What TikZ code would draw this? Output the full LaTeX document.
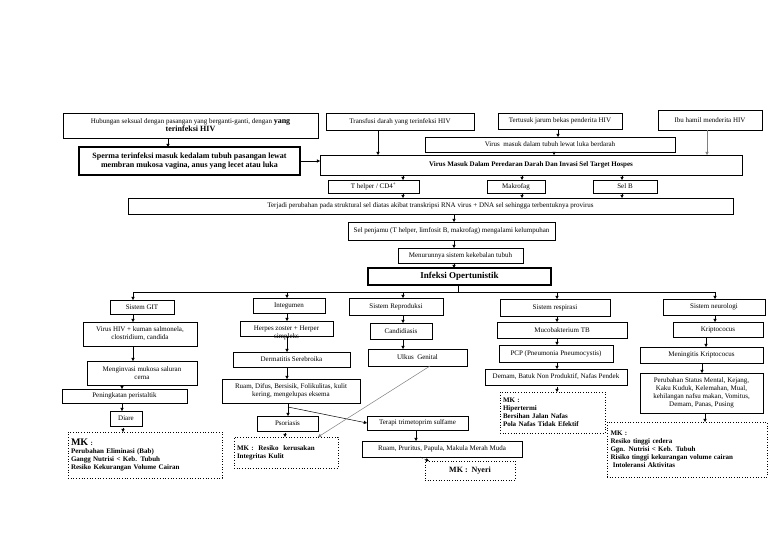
\documentclass[tikz,border=0pt]{standalone}
\usepackage{fontspec}
\setmainfont{Liberation Serif}
\usetikzlibrary{arrows.meta}
\newcommand\bigb{\fontsize{8}{8.6}\selectfont\bfseries}
\newcommand\bx[7][]{\node[box,minimum width={(#5-#3)*1pt},minimum height={(#6-#4)*1pt},#1] (#2) at ({(#3+#5)/2},{(#4+#6)/2}) {#7};}
\tikzset{
  box/.style={draw=black, line width=0.7pt, inner sep=1pt, outer sep=0pt, align=center, font=\fontsize{7}{8}\selectfont},
  heavy/.style={line width=1.3pt},
  mk/.style={draw=black, dotted, line width=0.9pt, inner sep=3pt, align=left, font=\bfseries\fontsize{7}{8}\selectfont},
  arr/.style={-{Triangle[length=3.2pt,width=3.2pt]}, line width=0.5pt},
  darr/.style={arr, densely dotted},
}
\begin{document}
\begin{tikzpicture}[x=1pt,y=-1pt]
\fill[white] (0,0) rectangle (768,543);
\useasboundingbox (0,0) rectangle (768,543);
% ---------- top ----------
\bx[line width=1pt]{hub}{63}{113}{318}{138}{Hubungan seksual dengan pasangan yang berganti-ganti, dengan {\bigb yang}\\{\bigb terinfeksi HIV}}
\bx[heavy,font=\bigb]{sperma}{79}{147}{300}{175}{Sperma terinfeksi masuk kedalam tubuh pasangan lewat\\ membran mukosa vagina, anus yang lecet atau luka}
\bx{trans}{326}{113}{474}{130}{Transfusi darah yang terinfeksi HIV}
\bx{tusuk}{498}{113}{622}{129}{Tertusuk jarum bekas penderita HIV}
\bx{ibu}{658}{110}{762}{130}{Ibu hamil menderita HIV}
\bx{luka}{425}{137}{675}{152}{Virus\ \ masuk dalam tubuh lewat luka berdarah}
\bx[font=\bfseries\fontsize{7}{8}\selectfont]{virus}{320}{155}{742}{175}{Virus Masuk Dalam Peredaran Darah Dan Invasi Sel Target Hospes}
\bx{th}{328}{180}{419}{193}{T helper / CD4\textsuperscript{+}}
\bx{mak}{487}{180}{545}{193}{Makrofag}
\bx{selb}{593}{180}{657}{193}{Sel B}
\bx{terjadi}{128}{198}{733}{214}{Terjadi perubahan pada struktural sel diatas akibat transkripsi RNA virus + DNA sel sehingga terbentuknya provirus}
\bx{penjamu}{348}{222}{555}{240}{Sel penjamu (T helper, limfosit B, makrofag) mengalami kelumpuhan}
\bx{menurun}{398}{248}{523}{263}{Menurunnya sistem kekebalan tubuh}
\bx[heavy,font=\fontsize{9}{10}\selectfont\bfseries]{infeksi}{368}{268}{551}{285}{Infeksi Opertunistik}
% top arrows
\draw[arr] (hub.south -| 168,0) -- (sperma.north -| 168,0);
\draw[arr] (sperma.east) -- (virus.west |- sperma.east);
\draw[arr] (trans.south -| 378,0) -- (virus.north -| 378,0);
\draw[arr] (tusuk.south -| 558,0) -- (luka.north -| 558,0);
\draw[arr,gray] (ibu.south -| 707,0) -- (virus.north -| 707,0);
\draw[arr] (luka.south -| 554,0) -- (virus.north -| 554,0);
\draw[arr] (virus.south -| 403,0) -- (th.north -| 403,0);
\draw[arr] (virus.south -| 522,0) -- (mak.north -| 522,0);
\draw[arr,densely dashed] (virus.south -| 622,0) -- (selb.north -| 622,0);
\draw[arr] (th.south -| 403,0) -- (terjadi.north -| 403,0);
\draw[arr] (mak.south -| 522,0) -- (terjadi.north -| 522,0);
\draw[arr] (selb.south -| 622,0) -- (terjadi.north -| 622,0);
\draw[arr] (terjadi.south -| 454,0) -- (penjamu.north -| 454,0);
\draw[arr] (penjamu.south -| 454,0) -- (menurun.north -| 454,0);
\draw[arr] (menurun.south -| 454,0) -- (infeksi.north -| 454,0);
% ---------- bus ----------
\coordinate (busL) at (133,292);
\coordinate (busM) at (458,292);
\coordinate (busR) at (715,292);
\draw[line width=0.5pt] (infeksi.south -| busM) -- (busM);
\draw[line width=0.5pt] (busL) -- (busR);
% ---------- GIT ----------
\bx{git}{110}{300}{174}{314}{Sistem GIT}
\bx{vhiv}{83}{322}{197}{346}{Virus HIV + kuman salmonela,\\ clostridium, candida}
\bx{invasi}{87}{361}{197}{385}{Menginvasi mukosa saluran\\ cerna}
\bx{peri}{62}{389}{187}{403}{Peningkatan peristaltik}
\bx{diare}{110}{411}{142}{426}{Diare}
\bx[mk,text width=148pt]{mkgit}{68}{432}{222}{478}{{\fontsize{10}{11}\selectfont MK} :\\ Perubahan Eliminasi (Bab)\\ Gangg Nutrisi < Keb. Tubuh\\ Resiko Kekurangan Volume Cairan}
% ---------- Integumen ----------
\bx{integ}{253}{298}{325}{313}{Integumen}
\bx[label={[anchor=center,inner sep=0pt,font=\fontsize{7}{8}\selectfont,yshift=-1pt]south:simpleks}]{herpes}{240}{321}{333}{336}{Herpes zoster + Herper}
\bx{derm}{233}{352}{350}{367}{Dermatitis Serebroika}
\bx{ruamk}{222}{379}{360}{403}{Ruam, Difus, Bersisik, Folikulitas, kulit\\ kering, mengelupas eksema}
\bx{psor}{257}{416}{318}{431}{Psoriasis}
\bx[mk,text width=98pt]{mkint}{234}{437}{338}{468}{MK :\ \ Resiko\ \ kerusakan\\ Integritas Kulit}
% ---------- Reproduksi ----------
\bx{repro}{349}{298}{443}{315}{Sistem Reproduksi}
\bx{candi}{370}{323}{432}{339}{Candidiasis}
\bx{ulkus}{368}{349}{467}{366}{Ulkus\ \ Genital}
\bx{terapi}{367}{416}{468}{430}{Terapi trimetoprim sulfame}
\bx{ruamp}{362}{441}{522}{457}{Ruam, Pruritus, Papula, Makula Merah Muda}
\bx[mk,align=center,font=\bigb]{nyeri}{425}{461}{515}{480}{MK :\ \ Nyeri}
% ---------- Respirasi ----------
\bx{resp}{500}{299}{610}{316}{Sistem respirasi}
\bx{myco}{497}{322}{627}{338}{Mucobakterium TB}
\bx{pcp}{499}{345}{613}{362}{PCP (Pneumonia Pneumocystis)}
\bx{demam}{485}{369}{627}{385}{Demam, Batuk Non Produktif, Nafas Pendek}
\bx[mk,text width=99pt]{mkresp}{500}{392}{605}{433}{MK :\\ Hipertermi\\ Bersihan Jalan Nafas\\ Pola Nafas Tidak Efektif}
% ---------- Neurologi ----------
\bx{neuro}{663}{299}{765}{315}{Sistem neurologi}
\bx{kripto}{673}{322}{763}{337}{Kriptococus}
\bx{mening}{640}{347}{763}{363}{Meningitis Kriptococus}
\bx{perub}{640}{373}{763}{413}{Perubahan Status Mental, Kejang,\\ Kaku Kuduk, Kelemahan, Mual,\\ kehilangan nafsu makan, Vomitus,\\ Demam, Panas, Pusing}
\bx[mk,text width=153pt]{mkneuro}{607}{422}{767}{477}{MK :\\ Resiko tinggi cedera\\ Ggn. Nutrisi < Keb. Tubuh\\ Risiko tinggi kekurangan volume cairan\\ \ Intoleransi Aktivitas}
% ---------- lower arrows ----------
\draw[arr] (busL) -- (git.north -| busL);
\draw[arr] (busL -| 287,0) -- (integ.north -| 287,0);
\draw[arr] (busL -| 403,0) -- (repro.north -| 403,0);
\draw[arr] (busL -| 557,0) -- (resp.north -| 557,0);
\draw[arr] (busR) -- (neuro.north -| busR);
% GIT
\draw[arr] (git.south -| 133,0) -- (vhiv.north -| 133,0);
\draw[arr] (vhiv.south -| 133,0) -- (invasi.north -| 133,0);
\draw[arr] (invasi.south -| 122,0) -- (peri.north -| 122,0);
\draw[arr] (peri.south -| 122,0) -- (diare.north -| 122,0);
\draw[darr] (diare.south -| 123,0) -- (mkgit.north -| 123,0);
% Integumen
\draw[arr] (integ.south -| 287,0) -- (herpes.north -| 287,0);
\draw[arr] (herpes.south -| 287,0) -- (derm.north -| 287,0);
\draw[arr] (derm.south -| 287,0) -- (ruamk.north -| 287,0);
\coordinate (sp) at (288,407);
\draw[line width=0.5pt] (ruamk.south -| sp) -- (sp);
\draw[arr] (sp) -- (psor.north -| sp);
\draw[arr] (sp) -- (terapi.west);
\draw[darr] (psor.south -| 285,0) -- (mkint.north -| 285,0);
% Reproduksi
\draw[arr] (repro.south -| 403,0) -- (candi.north -| 403,0);
\draw[arr] (candi.south -| 403,0) -- (ulkus.north -| 403,0);
\draw[arr,gray] (ulkus.south -| 430,0) -- (mkint.north -| 318,0);
\draw[arr] (terapi.south -| 416,0) -- (ruamp.north -| 416,0);
\draw[arr,densely dashed] (ruamp.south -| 420,0) -- ([xshift=4pt]nyeri.north west);
% Respirasi
\draw[arr] (resp.south -| 557,0) -- (myco.north -| 557,0);
\draw[arr] (myco.south -| 557,0) -- (pcp.north -| 557,0);
\draw[arr] (pcp.south -| 557,0) -- (demam.north -| 557,0);
\draw[darr] (demam.south -| 557,0) -- (mkresp.north -| 557,0);
% Neurologi
\draw[arr] (neuro.south -| 715,0) -- (kripto.north -| 715,0);
\draw[arr] (kripto.south -| 706,0) -- (mening.north -| 706,0);
\draw[arr] (mening.south -| 702,0) -- (perub.north -| 702,0);
\draw[arr] (perub.south -| 705,0) -- (mkneuro.north -| 705,0);
\end{tikzpicture}
\end{document}
